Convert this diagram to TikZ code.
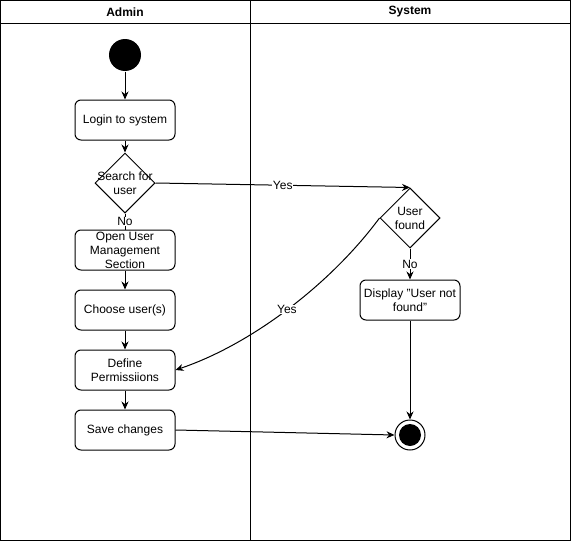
\documentclass[tikz,border=0pt]{standalone}
\usepackage{fontspec}
\setmainfont{Liberation Sans}
\usetikzlibrary{arrows.meta,shapes.geometric}
\begin{document}
\begin{tikzpicture}[x=1pt,y=-1pt,line width=1pt,
  font=\fontsize{12}{14}\selectfont,
  actbox/.style={draw,rectangle,rounded corners=6pt,minimum width=100pt,minimum height=40pt,align=center,inner sep=1pt},
  decis/.style={draw,diamond,minimum width=60pt,minimum height=60pt,inner sep=0pt},
  dlabel/.style={align=center,inner sep=0pt},
  arr/.style={-{Stealth[length=8pt,width=7pt]}},
  lbl/.style={fill=white,inner sep=0.5pt}]
\useasboundingbox (0,0) rectangle (571,541);
% swimlanes
\draw (0.5,0.5) rectangle (570.5,540.5);
\draw (0.5,23) -- (570.5,23);
\draw (250,0.5) -- (250,540.5);
\node[font=\fontsize{12}{14}\selectfont\bfseries] (hAdmin) at (125,12) {Admin};
\node[font=\fontsize{12}{14}\selectfont\bfseries] (hSystem) at (410,12) {System};
% nodes
\node[circle,fill=black,minimum size=32pt,inner sep=0pt] (start) at (125,55) {};
\node[actbox] (login) at (125,120) {Login to system};
\node[decis] (search) at (125,183) {};
\node[dlabel] (searchT) at (125,183) {Search for\\user};
\node[actbox] (open) at (125,250) {Open User\\Management\\Section};
\node[actbox] (choose) at (125,310) {Choose user(s)};
\node[actbox] (define) at (125,370) {Define\\Permissiions};
\node[actbox] (save) at (125,430) {Save changes};
\node[decis] (found) at (410,218) {};
\node[dlabel] (foundT) at (410,218) {User\\found};
\node[actbox] (display) at (410,300) {Display "User not\\found"};
\node[circle,draw,minimum size=30pt,inner sep=0pt,
  path picture={\fill (path picture bounding box.center) circle (11pt);}] (end) at (410,435) {};
% edges
\draw[arr] (start) -- (login);
\draw[arr] (login) -- (search);
\draw (search.south) -- node[lbl] {No} (open.north);
\draw[arr] (open) -- (choose);
\draw[arr] (choose) -- (define);
\draw[arr] (define) -- (save);
\draw[arr] (search.east) -- node[lbl] {Yes} (found.north);
\draw[arr] (found.south) -- node[lbl] {No} (display.north);
\draw[arr] (found.west) .. controls (330,285) and (250,345) .. node[lbl,pos=0.5] {Yes} (define.east);
\draw[arr] (save.east) -- (end.west);
\draw[arr] (display.south) -- (end.north);
\end{tikzpicture}
\end{document}
